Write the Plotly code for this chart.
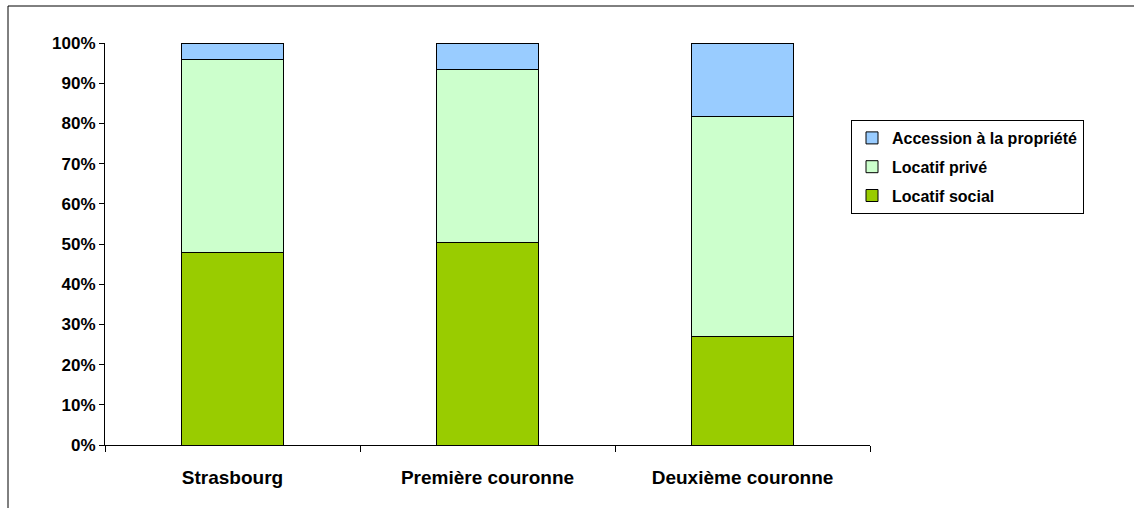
import plotly.graph_objects as go

categories = ["Strasbourg", "Première couronne", "Deuxième couronne"]
locatif_social = [47.8, 50.3, 26.9]
locatif_prive = [48.0, 43.1, 54.7]
accession = [4.2, 6.6, 18.4]
y_ticks = [0, 10, 20, 30, 40, 50, 60, 70, 80, 90, 100]
y_labels = [f"{v}%" for v in y_ticks]

W, H = 1134, 508
L, R, T, B = 105, 264, 43, 63

fig = go.Figure()
line = dict(color="black", width=1)
fig.add_trace(go.Bar(x=categories, y=locatif_social, name="Locatif social", legendgroup="a",
                     legendrank=3, marker=dict(color="#99CC00", line=line)))
fig.add_trace(go.Bar(x=categories, y=locatif_prive, name="Locatif privé", legendgroup="b",
                     legendrank=2, marker=dict(color="#CCFFCC", line=line)))
fig.add_trace(go.Bar(x=categories, y=accession, name="Accession à la propriété", legendgroup="c",
                     legendrank=1, marker=dict(color="#99CCFF", line=line)))

fam = "Liberation Sans, Arial, sans-serif"
ytfont = dict(family=fam, size=17, color="black", weight="bold")
xtfont = dict(family=fam, size=19, color="black", weight="bold")
pw = W - L - R
ph = H - T - B
fig.update_layout(
    width=W, height=H,
    margin=dict(l=L, r=R, t=T, b=B),
    barmode="stack", bargap=0.6,
    plot_bgcolor="white", paper_bgcolor="white",
    font=dict(family=fam, size=16, color="black", weight="bold"),
    showlegend=True,
    legend=dict(x=(851 - L) / pw, y=(H - B - 120) / ph, xanchor="left", yanchor="top",
                traceorder="grouped", bordercolor="black", borderwidth=1,
                font=dict(family=fam, size=16, color="black", weight="bold"),
                tracegroupgap=5, bgcolor="white"),
    xaxis=dict(showline=True, linecolor="black", linewidth=1, ticks="outside",
               tickson="boundaries", ticklen=6, tickcolor="black", showgrid=False,
               tickfont=xtfont, ticklabelstandoff=15),
    yaxis=dict(range=[0, 100], tickvals=y_ticks, ticktext=y_labels, showline=True,
               linecolor="black", linewidth=1, ticks="outside", ticklen=5,
               tickcolor="black", showgrid=False, zeroline=False, tickfont=ytfont),
    shapes=[dict(type="rect", xref="paper", yref="paper",
                 x0=(8 - L) / pw, x1=(1140 - L) / pw,
                 y0=(H - B - 520) / ph, y1=(H - B - 6) / ph,
                 line=dict(color="black", width=1), layer="below")],
)

fig.write_html("out.html", config={"displayModeBar": False},
               post_script="document.body.style.margin='0';document.body.style.padding='0';")
